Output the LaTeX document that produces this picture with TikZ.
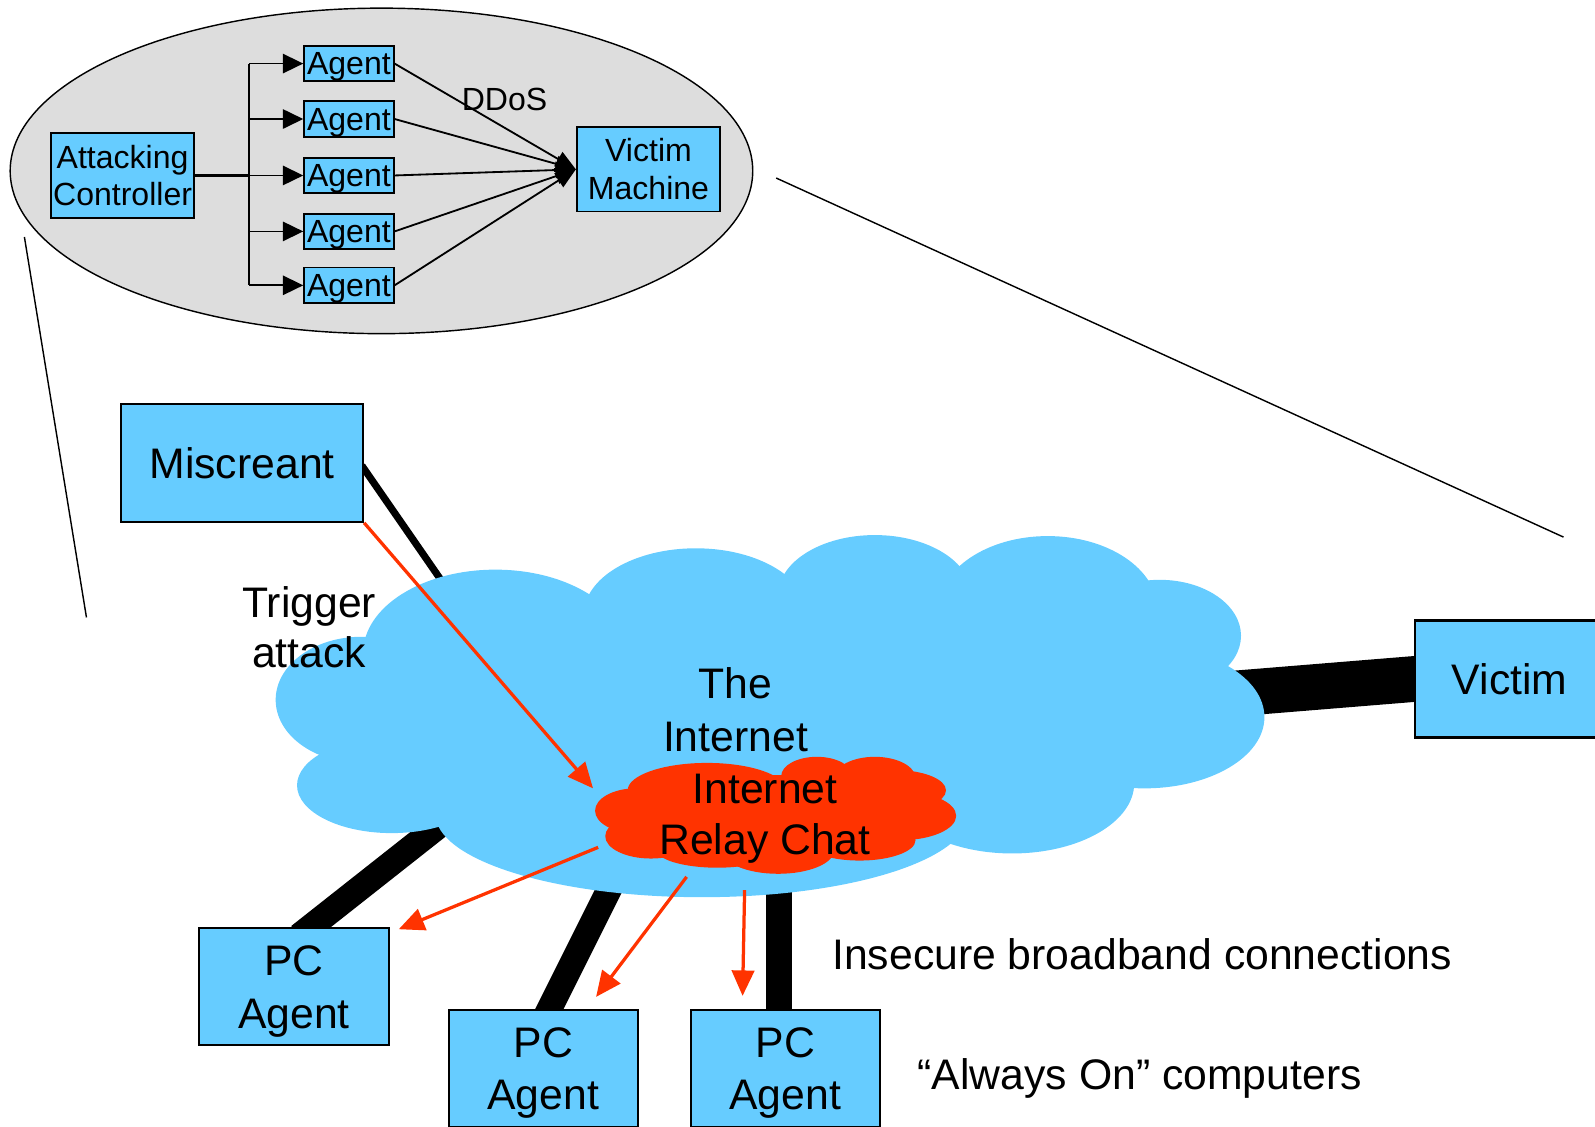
\documentclass[tikz,border=0pt]{standalone}
\usepackage{fontspec}
\setmainfont{Liberation Sans}
\usetikzlibrary{arrows.meta,calc}
\pgfdeclarelayer{bgA}
\pgfdeclarelayer{bgB}
\pgfdeclarelayer{bgC}
\pgfdeclarelayer{bgD}
\pgfsetlayers{bgA,bgB,bgC,bgD,main}
\definecolor{netblue}{HTML}{66CCFF}
\definecolor{ircred}{HTML}{FF3300}
\definecolor{ovalgray}{HTML}{DDDDDD}
\begin{document}
\begin{tikzpicture}[x=1pt,y=-1pt,
 bigfont/.style={font=\fontsize{42}{52}\selectfont},
 smallfont/.style={font=\fontsize{31.5}{37}\selectfont},
 smallbox/.style={draw=black,line width=1.8pt,fill=netblue,inner sep=0pt,smallfont,align=center},
 bigbox/.style={draw=black,line width=2pt,fill=netblue,inner sep=0pt,bigfont,align=center,minimum width=186pt,minimum height=115pt},
 thinline/.style={draw=black,line width=1.8pt},
 calloutline/.style={draw=black,line width=1.4pt},
 pipe/.style={draw=black,line width=25pt},
 redarrow/.style={draw=ircred,line width=3.2pt,-{Triangle[length=25pt,width=22pt]}},
 cloudfill/.style={fill=netblue},
 ircfill/.style={fill=ircred}
]
\useasboundingbox (0,0) rectangle (1568,1107);
\clip (0,0) rectangle (1568,1107);

% ---------- nodes ----------
\node[smallbox,minimum width=141pt,minimum height=83pt] (ac) at (120.5,172.5) {Attacking\\Controller};
\node[smallbox,minimum width=88pt,minimum height=35pt,text depth=0pt] (a1) at (343,62.5) {Agent};
\node[smallbox,minimum width=88pt,minimum height=35pt,text depth=0pt] (a2) at (343,117) {Agent};
\node[smallbox,minimum width=88pt,minimum height=35pt,text depth=0pt] (a3) at (343,172.5) {Agent};
\node[smallbox,minimum width=88pt,minimum height=35pt,text depth=0pt] (a4) at (343,227.5) {Agent};
\node[smallbox,minimum width=88pt,minimum height=35pt,text depth=0pt] (a5) at (343,280.5) {Agent};
\node[smallbox,minimum width=141pt,minimum height=83pt] (vm) at (637.5,166.5) {Victim\\Machine};
\node[smallfont,inner sep=0pt] (ddos) at (496,98) {DDoS};

\node[bigbox,minimum width=238pt,minimum height=116pt] (mis) at (238,455) {Miscreant};
\node[bigbox] (vic) at (1484,667.5) {Victim};
\node[bigbox,text depth=0pt] (pc1) at (289,970) {PC\\Agent};
\node[bigbox,text depth=0pt] (pc2) at (534,1050.5) {PC\\Agent};
\node[bigbox,text depth=0pt] (pc3) at (772,1050.5) {PC\\Agent};

\node[font=\fontsize{42}{49}\selectfont,align=center,inner sep=0pt] (trig) at (304,616.5) {Trigger\\attack};
\node[bigfont,align=center,inner sep=0pt] (inet) at (723,698) {The\\Internet};
\node[font=\fontsize{42}{51}\selectfont,align=center,inner sep=0pt,text depth=0pt] (irc) at (752,800.5) {Internet\\Relay Chat};
\node[bigfont,anchor=base west,inner sep=0pt] (ins) at (818,953) {Insecure broadband connections};
\node[bigfont,anchor=base west,inner sep=0pt] (alw) at (902,1071) {“Always On” computers};

% ---------- coordinates ----------
\coordinate (tk) at (245,172.5);
\coordinate (zl1) at (24,233);
\coordinate (zl2) at (85,607);
\coordinate (zr1) at (763,175);
\coordinate (zr2) at (1537,528);
\coordinate (mend) at (450,594);
\coordinate (k1) at (440,805);
\coordinate (k2) at (620,832);
\coordinate (k3) at (766,860);
\coordinate (k4) at (1150,687);
\coordinate (r1e) at (583,775);
\coordinate (r2s) at (588,833);
\coordinate (r3s) at (675,862);
\coordinate (r4s) at (732,875);

% ---------- top DDoS diagram connectors ----------
\draw[thinline,line width=2.8pt] (ac.east) -- (tk);
\draw[thinline] (tk |- a1.west) -- (tk |- a5.west);
\foreach \i in {1,...,5}{
  \draw[thinline,-{Triangle[length=20pt,width=19pt]}] (tk |- a\i.west) -- (a\i.west);
  \draw[thinline,-{Triangle[length=20pt,width=16pt]}] (a\i.east) -- (vm.west);
}

% ---------- background: oval and callout lines ----------
\begin{pgfonlayer}{bgA}
\draw[calloutline,fill=ovalgray] (375,168) ellipse [x radius=365pt,y radius=160pt];
\draw[calloutline] (zl1) -- (zl2);
\draw[calloutline] (zr1) -- (zr2);
\end{pgfonlayer}

% ---------- thick links ----------
\begin{pgfonlayer}{bgB}
\draw[line width=7pt,shorten <=-4pt] ($(mis.east)+(0,6)$) -- (mend);
\draw[pipe,shorten >=-14pt] (k1) -- ($(pc1.north)+(16,0)$);
\draw[pipe,shorten >=-14pt] (k2) -- ($(pc2.north)+(6,0)$);
\draw[pipe,shorten >=-4pt] (k3) -- ($(pc3.north)+(-6,0)$);
\draw[line width=45pt,shorten >=-6pt] (k4) -- (vic.west);
\end{pgfonlayer}

% ---------- clouds ----------
\begin{pgfonlayer}{bgC}
\fill[cloudfill] (330,735) -- (370,650) -- (585,600) -- (775,580) -- (941,575) -- (1133,600)
  -- (1190,660) -- (1100,760) -- (910,815) -- (600,845) -- (400,800) -- cycle;
\fill[cloudfill] (355,688) ellipse [x radius=84pt,y radius=62pt];
\fill[cloudfill] (385,772) ellipse [x radius=93pt,y radius=47pt];
\fill[cloudfill] (487,642) ellipse [x radius=130pt,y radius=82pt];
\fill[cloudfill] (684,604) ellipse [x radius=110pt,y radius=65pt];
\fill[cloudfill] (860,585) ellipse [x radius=95pt,y radius=59pt];
\fill[cloudfill] (1030,600) ellipse [x radius=108pt,y radius=73pt];
\fill[cloudfill] (1140,625) ellipse [x radius=80pt,y radius=55pt];
\fill[cloudfill] (1125,705) ellipse [x radius=118pt,y radius=70pt];
\fill[cloudfill] (995,770) ellipse [x radius=120pt,y radius=69pt];
\fill[cloudfill] (690,800) ellipse [x radius=262pt,y radius=82pt];
% IRC cloud
\fill[ircfill] (762,800) ellipse [x radius=150pt,y radius=38pt];
\fill[ircfill] (625,797) ellipse [x radius=40pt,y radius=22pt];
\fill[ircfill] (640,822) ellipse [x radius=45pt,y radius=22pt];
\fill[ircfill] (705,835) ellipse [x radius=60pt,y radius=18pt];
\fill[ircfill] (765,836) ellipse [x radius=55pt,y radius=23pt];
\fill[ircfill] (845,826) ellipse [x radius=55pt,y radius=20pt];
\fill[ircfill] (885,802) ellipse [x radius=55pt,y radius=24pt];
\fill[ircfill] (880,777) ellipse [x radius=50pt,y radius=20pt];
\fill[ircfill] (860,765) ellipse [x radius=40pt,y radius=21pt];
\fill[ircfill] (803,763) ellipse [x radius=35pt,y radius=19pt];
\fill[ircfill] (695,777) ellipse [x radius=78pt,y radius=27pt];
\end{pgfonlayer}

% ---------- red arrows ----------
\begin{pgfonlayer}{bgD}
\draw[redarrow] (mis.south east) -- (r1e);
\draw[redarrow] (r2s) -- ($(pc1.north east)+(9,2)$);
\draw[redarrow] (r3s) -- ($(pc2.north)+(52,-12)$);
\draw[redarrow] (r4s) -- ($(pc3.north)+(-42,-13)$);
\end{pgfonlayer}
\end{tikzpicture}
\end{document}
